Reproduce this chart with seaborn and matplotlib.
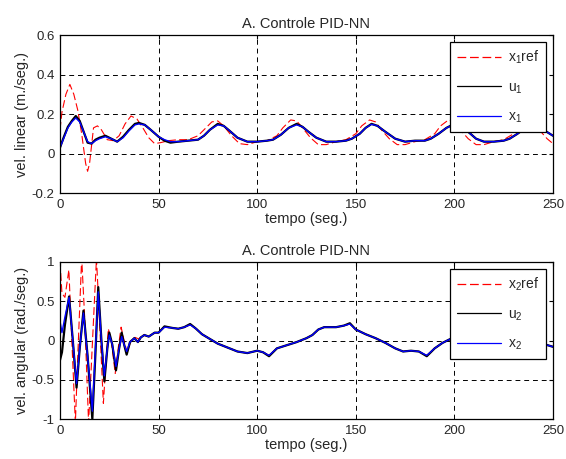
import matplotlib
matplotlib.use("Agg")
import matplotlib.pyplot as plt
import seaborn as sns

# --- linear velocity (top panel) ---
t1 = [0, 2, 4, 6, 8, 10, 12, 14, 16, 18, 20, 23, 26, 29, 32, 35, 38, 40, 43, 46,
      50, 53, 56, 60, 65, 70, 73, 76, 80, 83, 86, 90, 95, 100, 105, 108, 112, 116,
      120, 123, 126, 130, 135, 140, 145, 148, 152, 155, 158, 161, 165, 170, 175,
      180, 185, 188, 192, 196, 200, 203, 207, 211, 215, 220, 225, 228, 232, 236,
      240, 243, 246, 250]
x1 = [0.03, 0.08, 0.13, 0.16, 0.18, 0.16, 0.11, 0.06, 0.05, 0.065, 0.075, 0.085,
      0.075, 0.06, 0.08, 0.115, 0.145, 0.15, 0.145, 0.12, 0.085, 0.07, 0.06, 0.06,
      0.065, 0.07, 0.09, 0.12, 0.145, 0.14, 0.115, 0.08, 0.06, 0.06, 0.065, 0.07,
      0.095, 0.13, 0.145, 0.135, 0.11, 0.08, 0.06, 0.06, 0.065, 0.075, 0.1, 0.13,
      0.148, 0.14, 0.11, 0.075, 0.06, 0.065, 0.065, 0.075, 0.1, 0.13, 0.148, 0.14,
      0.11, 0.075, 0.06, 0.06, 0.065, 0.075, 0.1, 0.13, 0.148, 0.14, 0.115, 0.09]
u1 = [0.03, 0.085, 0.135, 0.165, 0.19, 0.165, 0.11, 0.055, 0.05, 0.07, 0.08, 0.09,
      0.075, 0.06, 0.085, 0.12, 0.15, 0.155, 0.145, 0.12, 0.085, 0.065, 0.055, 0.06,
      0.065, 0.07, 0.09, 0.12, 0.15, 0.14, 0.115, 0.08, 0.06, 0.06, 0.065, 0.07,
      0.095, 0.13, 0.15, 0.135, 0.11, 0.08, 0.06, 0.06, 0.065, 0.075, 0.1, 0.13,
      0.15, 0.14, 0.11, 0.075, 0.06, 0.065, 0.065, 0.075, 0.1, 0.13, 0.15, 0.14,
      0.11, 0.075, 0.06, 0.06, 0.065, 0.075, 0.1, 0.13, 0.15, 0.14, 0.115, 0.09]
tr1 = [0, 1, 3, 5, 7, 9, 11, 13, 14, 15, 17, 19, 21, 24, 27, 30, 33, 36, 39, 42,
       45, 48, 51, 55, 60, 65, 70, 73, 77, 80, 83, 87, 91, 95, 100, 105, 110, 113,
       117, 120, 123, 127, 131, 135, 140, 145, 150, 153, 157, 160, 163, 167, 171,
       175, 180, 185, 190, 193, 197, 200, 203, 207, 211, 215, 220, 225, 230, 233,
       237, 240, 243, 247, 250]
x1ref = [0.12, 0.21, 0.3, 0.35, 0.3, 0.22, 0.1, -0.05, -0.09, -0.05, 0.13, 0.14,
         0.12, 0.07, 0.065, 0.09, 0.15, 0.19, 0.175, 0.13, 0.08, 0.05, 0.055, 0.065,
         0.07, 0.07, 0.09, 0.12, 0.16, 0.165, 0.14, 0.09, 0.05, 0.045, 0.06, 0.065,
         0.09, 0.13, 0.17, 0.165, 0.13, 0.08, 0.045, 0.045, 0.06, 0.07, 0.1, 0.14,
         0.17, 0.16, 0.12, 0.075, 0.045, 0.045, 0.06, 0.07, 0.1, 0.14, 0.17, 0.16,
         0.12, 0.075, 0.045, 0.045, 0.06, 0.07, 0.1, 0.14, 0.17, 0.16, 0.12, 0.075,
         0.05]

# --- angular velocity (bottom panel) ---
t2 = [0, 1, 2.5, 4.6, 6.5, 8.4, 10, 11.9, 14, 16.4, 18, 19.4, 21, 22.5, 24, 25,
      26.5, 28.4, 30, 31.3, 32.5, 33.8, 35.5, 37.7, 39.5, 41, 42.8, 45, 48, 50, 53,
      57, 60, 63, 66, 69, 72, 76, 80, 85, 90, 95, 100, 103, 106, 110, 115, 120, 125,
      128, 131, 134, 140, 144, 147, 150, 155, 160, 165, 170, 174, 178, 182, 186,
      190, 194, 198, 205, 212, 220, 228, 235, 242, 246, 250]
x2 = [0.25, 0.1, 0.3, 0.55, 0.0, -0.55, -0.1, 0.35, -0.2, -0.9, -0.1, 0.62, 0.0,
      -0.45, -0.1, 0.07, -0.05, -0.33, -0.1, 0.05, -0.05, -0.14, -0.02, 0.03, -0.02,
      0.04, 0.07, 0.05, 0.1, 0.1, 0.17, 0.16, 0.15, 0.17, 0.2, 0.15, 0.08, 0.02,
      -0.04, -0.09, -0.14, -0.16, -0.13, -0.15, -0.19, -0.1, -0.06, -0.02, 0.03,
      0.07, 0.14, 0.17, 0.17, 0.19, 0.21, 0.14, 0.08, 0.03, -0.03, -0.1, -0.14,
      -0.13, -0.14, -0.19, -0.1, -0.03, 0.02, 0.07, 0.1, 0.1, 0.06, 0.02, -0.02,
      -0.05, -0.08]
u2 = [-0.25, -0.15, 0.2, 0.56, 0.0, -0.6, -0.1, 0.38, -0.2, -1.0, -0.15, 0.68,
      0.0, -0.52, -0.1, 0.1, -0.05, -0.38, -0.1, 0.1, -0.05, -0.18, -0.02, 0.03,
      -0.02, 0.04, 0.07, 0.05, 0.1, 0.1, 0.18, 0.16, 0.15, 0.17, 0.21, 0.15, 0.08,
      0.02, -0.04, -0.09, -0.14, -0.16, -0.13, -0.15, -0.2, -0.1, -0.06, -0.02,
      0.03, 0.07, 0.14, 0.17, 0.17, 0.19, 0.22, 0.14, 0.08, 0.03, -0.03, -0.1,
      -0.14, -0.13, -0.14, -0.2, -0.1, -0.03, 0.02, 0.07, 0.1, 0.1, 0.06, 0.02,
      -0.02, -0.05, -0.08]
tr2 = [0, 1, 2.5, 4.5, 6, 7.8, 9, 11, 12.5, 14.5, 16.5, 18.5, 20.5, 22, 23.5,
       24.5, 26, 28, 29.5, 31, 32.5, 34, 36, 38, 40, 42, 45, 48, 50, 53, 57, 60,
       63, 66, 69, 72, 76, 80, 85, 90, 95, 100, 103, 106, 110, 115, 120, 125, 128,
       131, 134, 140, 144, 147, 150, 155, 160, 165, 170, 174, 178, 182, 186, 190,
       194, 198, 205, 212, 220, 228, 235, 242, 246, 250]
x2ref = [1.0, 0.6, 0.55, 0.9, 0.0, -1.05, -0.2, 1.05, 0.3, -1.05, 0.0, 1.05, 0.0,
         -0.8, -0.2, 0.15, 0.0, -0.42, -0.1, 0.17, 0.0, -0.15, 0.0, 0.04, 0.02,
         0.07, 0.05, 0.1, 0.1, 0.17, 0.16, 0.15, 0.17, 0.2, 0.15, 0.08, 0.02,
         -0.04, -0.09, -0.14, -0.16, -0.13, -0.15, -0.19, -0.1, -0.06, -0.02, 0.03,
         0.07, 0.14, 0.17, 0.17, 0.19, 0.21, 0.14, 0.08, 0.03, -0.03, -0.1, -0.14,
         -0.13, -0.14, -0.19, -0.1, -0.03, 0.02, 0.07, 0.1, 0.1, 0.06, 0.02, -0.02,
         -0.05, -0.08]

xticks = [0, 50, 100, 150, 200, 250]
yticks1 = [-0.2, 0, 0.2, 0.4, 0.6]
yticks2 = [-1, -0.5, 0, 0.5, 1]
ylab1 = ["-0.2", "0", "0.2", "0.4", "0.6"]
ylab2 = ["-1", "-0.5", "0", "0.5", "1"]

sns.set_style("white")
plt.rcParams["font.family"] = ["Liberation Sans", "DejaVu Sans"]
plt.rcParams["mathtext.fontset"] = "custom"
plt.rcParams["mathtext.rm"] = "Liberation Sans"
plt.rcParams["mathtext.it"] = "Liberation Sans"

fig = plt.figure(figsize=(5.66, 4.59), dpi=100)
ax1 = fig.add_axes([0.106, 0.5795, 0.871, 0.3442])
ax2 = fig.add_axes([0.106, 0.0871, 0.871, 0.3421])

panels = [
    (ax1, t1, x1, u1, tr1, x1ref, yticks1, ylab1, (-0.2, 0.6),
     "vel. linear (m./seg.)", "1"),
    (ax2, t2, x2, u2, tr2, x2ref, yticks2, ylab2, (-1, 1),
     "vel. angular (rad./seg.)", "2"),
]

for ax, t, x, u, tr, xr, yt, yl, ylim, ylabel, k in panels:
    sns.lineplot(x=tr, y=xr, ax=ax, color="red", lw=0.8, dashes=(7, 3),
                 label="x$_{%s}$ref" % k, estimator=None, sort=False)
    sns.lineplot(x=t, y=u, ax=ax, color="black", lw=1.6,
                 label="u$_{%s}$" % k, estimator=None, sort=False)
    sns.lineplot(x=t, y=x, ax=ax, color="blue", lw=1.0,
                 label="x$_{%s}$" % k, estimator=None, sort=False)
    ax.set_xlim(0, 250)
    ax.set_ylim(*ylim)
    ax.set_xticks(xticks)
    ax.set_xticklabels([str(v) for v in xticks])
    ax.set_yticks(yt)
    ax.set_yticklabels(yl)
    ax.tick_params(direction="in", length=3, labelsize=9.5, top=True,
                   right=True, pad=4, color="black")
    ax.grid(True, color="black", linestyle=(0, (5, 4)), lw=0.7)
    for s in ax.spines.values():
        s.set_color("black")
        s.set_linewidth(0.9)
    ax.set_title("A. Controle PID-NN", fontsize=10.5, pad=5)
    ax.set_xlabel("tempo (seg.)", fontsize=10.5, labelpad=1)
    ax.set_ylabel(ylabel, fontsize=10.5, labelpad=2)
    leg = ax.legend(loc="upper right", fontsize=10, handlelength=3.2,
                    labelspacing=1.0, fancybox=False, framealpha=1,
                    edgecolor="black", borderaxespad=0.5, borderpad=0.5,
                    handletextpad=0.5)
    leg.get_frame().set_linewidth(0.9)
    for line in leg.get_lines():
        line.set_linewidth(0.9)

fig.savefig("out.png", dpi=100)
